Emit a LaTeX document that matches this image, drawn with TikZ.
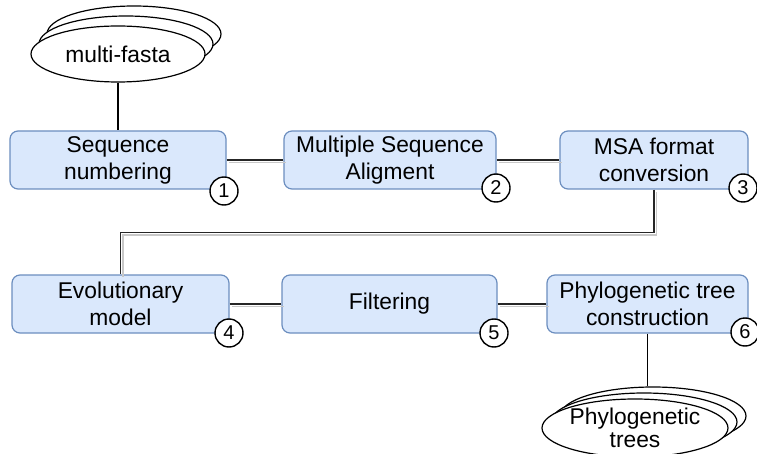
\documentclass[tikz,border=0pt]{standalone}
\usepackage{fontspec}
\setmainfont{Liberation Sans}
\usetikzlibrary{shapes.geometric}
\definecolor{boxfill}{HTML}{DAE8FC}
\definecolor{boxline}{HTML}{6C8EBF}
\definecolor{shadowgray}{HTML}{C8C8C8}

\begin{document}
\begin{tikzpicture}[x=1pt, y=-1pt,
    step_box/.style ={rectangle, draw=boxline, line width=1.2pt, fill=boxfill,
      rounded corners=8pt, minimum height=58pt, align=center, inner sep=2pt,
      font=\fontsize{22.8}{27}\selectfont},
    data_stack/.style ={ellipse, draw=black, line width=1.2pt, fill=white,
      align=center, inner sep=0pt, font=\fontsize{22.8}{23}\selectfont},
    step_num/.style ={circle, draw=black, line width=1.4pt, fill=white,
      minimum size=28pt, inner sep=0pt, font=\fontsize{20}{20}\selectfont},
    link/.style ={draw=black!85, line width=1.2pt,
      preaction={draw=shadowgray, line width=1.6pt,
        transform canvas={shift={(2.5pt,-2.5pt)}}}}]

    \useasboundingbox (0,0) rectangle (757,454);

    % input files
    \node [data_stack, minimum width=174pt, minimum height=56pt] (fasta_b2) at (134,34) {};
    \node [data_stack, minimum width=174pt, minimum height=56pt] (fasta_b1) at (126,44) {};
    \node [data_stack, minimum width=174pt, minimum height=56pt] (fasta) at (118,54) {multi-fasta};

    % pipeline steps
    \node [step_box, minimum width=216pt] (seqnum) at (118,160) {Sequence\\numbering};
    \node [step_box, minimum width=212pt] (msa) at (390,160) {Multiple Sequence\\Aligment};
    \node [step_box, minimum width=188pt] (msaconv) at (654,160) {MSA format\\conversion};
    \node [step_box, minimum width=217pt] (evomodel) at (120.5,304) {Evolutionary\\model};
    \node [step_box, minimum width=215pt] (filter) at (389.5,304) {Filtering};
    \node [step_box, minimum width=201pt] (phylo) at (647.5,304) {Phylogenetic tree\\construction};

    % output trees
    \node [data_stack, minimum width=186pt, minimum height=58pt] (trees_b2) at (653,416) {};
    \node [data_stack, minimum width=186pt, minimum height=58pt] (trees_b1) at (644,422) {};
    \node [data_stack, minimum width=186pt, minimum height=58pt] (trees) at (635,428) {Phylogenetic\\trees};

    % first row
    \path [link] (seqnum) -- (msa);
    \path [link] (msa) -- (msaconv);
    \path [link] (msaconv.south) -- ++(0,43) -| (evomodel.north);

    % second row
    \path [link] (evomodel) -- (filter);
    \path [link] (filter) -- (phylo);

    % plain links to the data
    \draw [line width=1.2pt] (fasta.south) -- (seqnum.north);
    \draw [line width=1.2pt] (phylo.south) -- (phylo.south |- trees_b2.north);

    % step numbers
    \node [step_num] (n1) at (224,191) {1};
    \node [step_num] (n2) at (496,188) {2};
    \node [step_num] (n3) at (743,188) {3};
    \node [step_num] (n4) at (229,333) {4};
    \node [step_num] (n5) at (494,333) {5};
    \node [step_num] (n6) at (745,332) {6};

  \end{tikzpicture}
\end{document}
